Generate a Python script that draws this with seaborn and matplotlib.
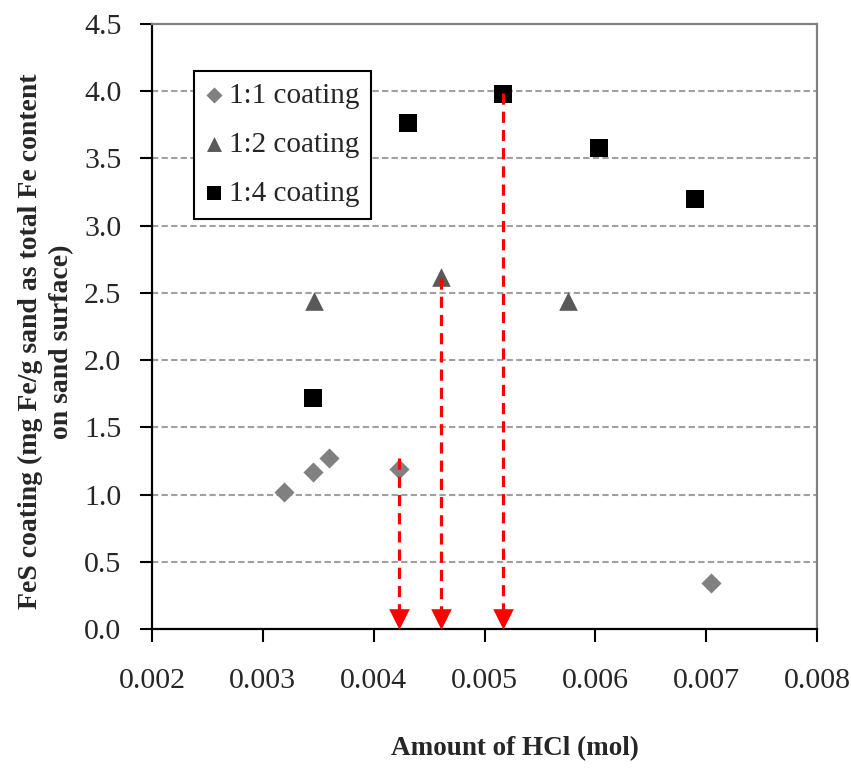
import pandas as pd
import matplotlib
matplotlib.use('Agg')
import matplotlib.pyplot as plt
import seaborn as sns

# values
hcl_11 = [0.00319, 0.00345, 0.00360, 0.00423, 0.00704]
fes_11 = [1.02, 1.17, 1.27, 1.19, 0.34]
hcl_12 = [0.00346, 0.00461, 0.00575]
fes_12 = [2.44, 2.62, 2.44]
hcl_14 = [0.00345, 0.00431, 0.00517, 0.00603, 0.00690]
fes_14 = [1.72, 3.76, 3.98, 3.58, 3.20]

# red dashed arrows dropped from selected points to the x axis
arrow_x = [0.00423, 0.00461, 0.00517]
arrow_top = [1.27, 2.61, 3.99]

groups = ['1:1 coating', '1:2 coating', '1:4 coating']
x_ticks = [0.002, 0.003, 0.004, 0.005, 0.006, 0.007, 0.008]
y_ticks = [0.0, 0.5, 1.0, 1.5, 2.0, 2.5, 3.0, 3.5, 4.0, 4.5]

df = pd.concat([
    pd.DataFrame({'hcl': hcl_11, 'fes': fes_11, 'coating': groups[0]}),
    pd.DataFrame({'hcl': hcl_12, 'fes': fes_12, 'coating': groups[1]}),
    pd.DataFrame({'hcl': hcl_14, 'fes': fes_14, 'coating': groups[2]}),
])

sns.set_style('white')
plt.rcParams['font.family'] = ['Liberation Serif', 'DejaVu Serif']

fig = plt.figure(figsize=(8.51, 7.7), dpi=100)
ax = fig.add_axes([152/851, 1-629/770, 665/851, 605/770])

styles = {'1:1 coating': ('D', '#808080', 105),
          '1:2 coating': ('^', '#595959', 180),
          '1:4 coating': ('s', '#000000', 150)}

# grid first so the markers sit on top
for yv in y_ticks[1:-1]:
    ax.axhline(yv, color='#a0a0a0', lw=1.5, ls=(0, (3, 1.6)), zorder=1)

for g in groups:
    m, c, s = styles[g]
    sns.scatterplot(data=df[df['coating'] == g], x='hcl', y='fes', marker=m,
                    color=c, s=s, linewidth=0, label=g, ax=ax, zorder=3)

for xa, ya in zip(arrow_x, arrow_top):
    ax.plot([xa, xa], [ya, 0.11], color='red', lw=2.3, ls=(0, (3.5, 2.2)), zorder=4)
ax.scatter(arrow_x, [0.072] * len(arrow_x), marker='v', s=220, color='red',
           linewidth=0, zorder=4, clip_on=False)

ax.set_xlim(0.002, 0.008)
ax.set_ylim(0, 4.5)
ax.set_xticks(x_ticks)
ax.set_xticklabels(['%.3f' % v for v in x_ticks])
ax.set_yticks(y_ticks)
ax.set_yticklabels(['%.1f' % v for v in y_ticks])
ax.tick_params(axis='x', direction='out', length=9, width=1.5, pad=19,
               labelsize=21.5, bottom=True, color='black')
ax.tick_params(axis='y', direction='out', length=9, width=1.5, pad=13,
               labelsize=21.5, left=True, color='black')

for side in ['left', 'bottom']:
    ax.spines[side].set_color('black')
    ax.spines[side].set_linewidth(1.6)
for side in ['top', 'right']:
    ax.spines[side].set_color('#808080')
    ax.spines[side].set_linewidth(1.6)

ax.set_xlabel('Amount of HCl (mol)', fontsize=19.5, fontweight='bold')
ax.xaxis.set_label_coords(0.546, -0.197)
ax.xaxis.label.set_verticalalignment('center')
ax.set_ylabel('FeS coating (mg Fe/g sand as total Fe content\non sand surface)',
              fontsize=20, fontweight='bold', linespacing=1.3)
ax.yaxis.set_label_coords(-0.159, 0.475)
ax.yaxis.label.set_verticalalignment('center')

leg = ax.legend(loc='upper left', bbox_to_anchor=(0.063, 0.923), borderaxespad=0,
                fontsize=21, frameon=True, fancybox=False, markerscale=0.8,
                handlelength=0.6, handletextpad=0.2, labelspacing=0.78,
                borderpad=0.4)
leg.get_frame().set_edgecolor('black')
leg.get_frame().set_linewidth(1.5)
leg.get_frame().set_alpha(1)

fig.savefig('out.png', dpi=100)
